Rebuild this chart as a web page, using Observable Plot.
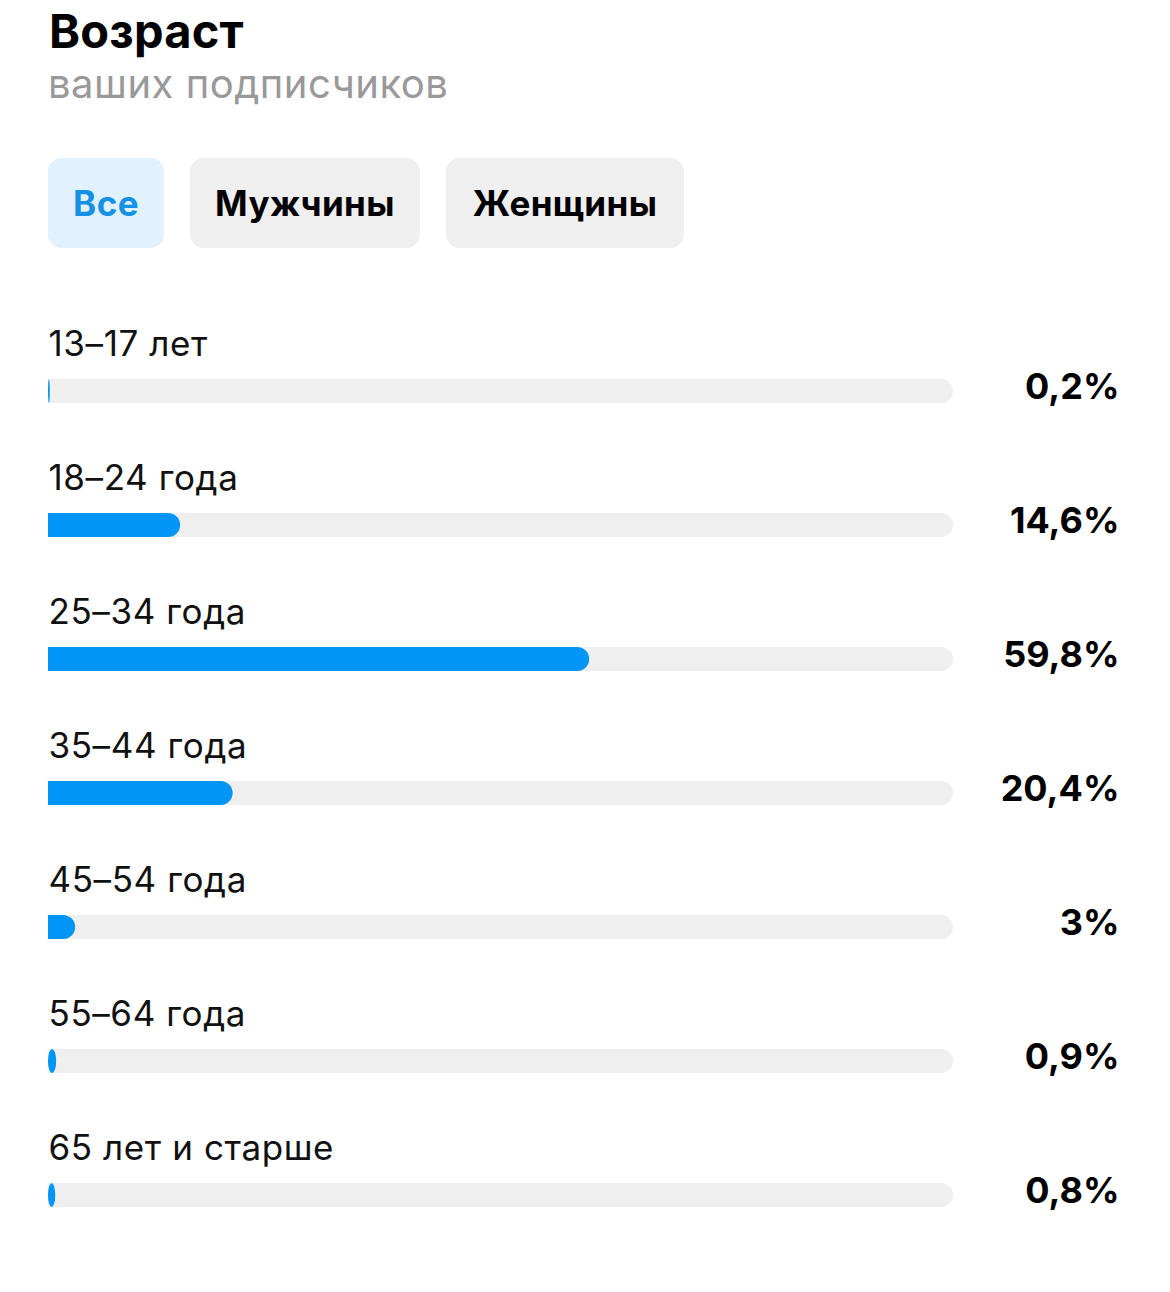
<!DOCTYPE html>
<html>
<head>
<meta charset="utf-8">
<script src="https://cdn.jsdelivr.net/npm/d3@7"></script>
<script src="https://cdn.jsdelivr.net/npm/@observablehq/plot@0.6"></script>
<style>
  html, body { margin: 0; padding: 0; background: #fff; }
  #wrap { position: relative; width: 1170px; height: 1292px; overflow: hidden; font-family: Inter, "Noto Sans", sans-serif; }
  .title { position: absolute; left: 49px; top: 7px; font-size: 47px; line-height: 1; font-weight: 700; color: #000; letter-spacing: 0.2px; }
  .subtitle { position: absolute; left: 48px; top: 64px; font-size: 40px; line-height: 1; font-weight: 400; color: #999; letter-spacing: 0.5px; }
  .btn { position: absolute; top: 158px; height: 90px; border-radius: 14px; background: #efefef; display: flex; align-items: center; justify-content: center; font-size: 35px; font-weight: 700; color: #000; letter-spacing: 0.4px; }
  .btn.active { background: #e1f1fd; color: #1592e6; }
  #chart { position: absolute; left: 0; top: 290px; }
</style>
</head>
<body>
<div id="wrap">
  <div class="title">Возраст</div>
  <div class="subtitle">ваших подписчиков</div>
  <div class="btn active" style="left:48px;width:116px;">Все</div>
  <div class="btn" style="left:190px;width:230px;">Мужчины</div>
  <div class="btn" style="left:446px;width:238px;">Женщины</div>
  <div id="chart"></div>
</div>
<script>
// Age groups and share of followers (%)
const categories = ["13–17 лет", "18–24 года", "25–34 года", "35–44 года", "45–54 года", "55–64 года", "65 лет и старше"];
const shares = [0.2, 14.6, 59.8, 20.4, 3, 0.9, 0.8];
const maxShare = 100;

const data = categories.map((c, i) => ({cat: c, v: shares[i], label: String(shares[i]).replace(".", ",") + "%"}));

const blue = "#0095f6";
const track = "#efefef";
const inset = 55;

const chart = Plot.plot({
  width: 1170,
  height: 1002,
  marginLeft: 48,
  marginRight: 217,
  marginTop: 33.5,
  marginBottom: 30,
  style: {fontFamily: "Inter, 'Noto Sans', sans-serif", background: "transparent"},
  x: {domain: [0, maxShare], axis: null},
  y: {type: "band", domain: categories, padding: 0, axis: null},
  marks: [
    // track
    Plot.barX(data, {x1: 0, x2: maxShare, y: "cat", fill: track, rx: 12, insetTop: inset, insetBottom: inset}),
    Plot.barX(data, {x1: 0, x2: maxShare / 2, y: "cat", fill: track, insetTop: inset, insetBottom: inset}),
    // value bars
    Plot.barX(data, {x1: 0, x2: "v", y: "cat", fill: blue, rx: 12, insetTop: inset, insetBottom: inset}),
    Plot.barX(data.filter(d => d.v >= 2), {x1: 0, x2: d => d.v / 2, y: "cat", fill: blue, insetTop: inset, insetBottom: inset}),
    // category labels above bars
    Plot.text(data, {y: "cat", text: "cat", frameAnchor: "left", textAnchor: "start", lineAnchor: "middle", dy: -47, fontSize: 35, fill: "#111", style: {letterSpacing: "0.6px"}}),
    // value labels at right
    Plot.text(data, {y: "cat", text: "label", frameAnchor: "right", textAnchor: "end", lineAnchor: "middle", dx: 166, dy: -4, fontSize: 36, fontWeight: 700, fill: "#000"})
  ]
});
chart.querySelectorAll("text").forEach(t => {
  if (t.getAttribute("font-size") === "35" || (t.parentNode && t.parentNode.getAttribute("font-size") === "35")) t.style.letterSpacing = "0.6px";
});
document.getElementById("chart").appendChild(chart);
</script>
</body>
</html>
